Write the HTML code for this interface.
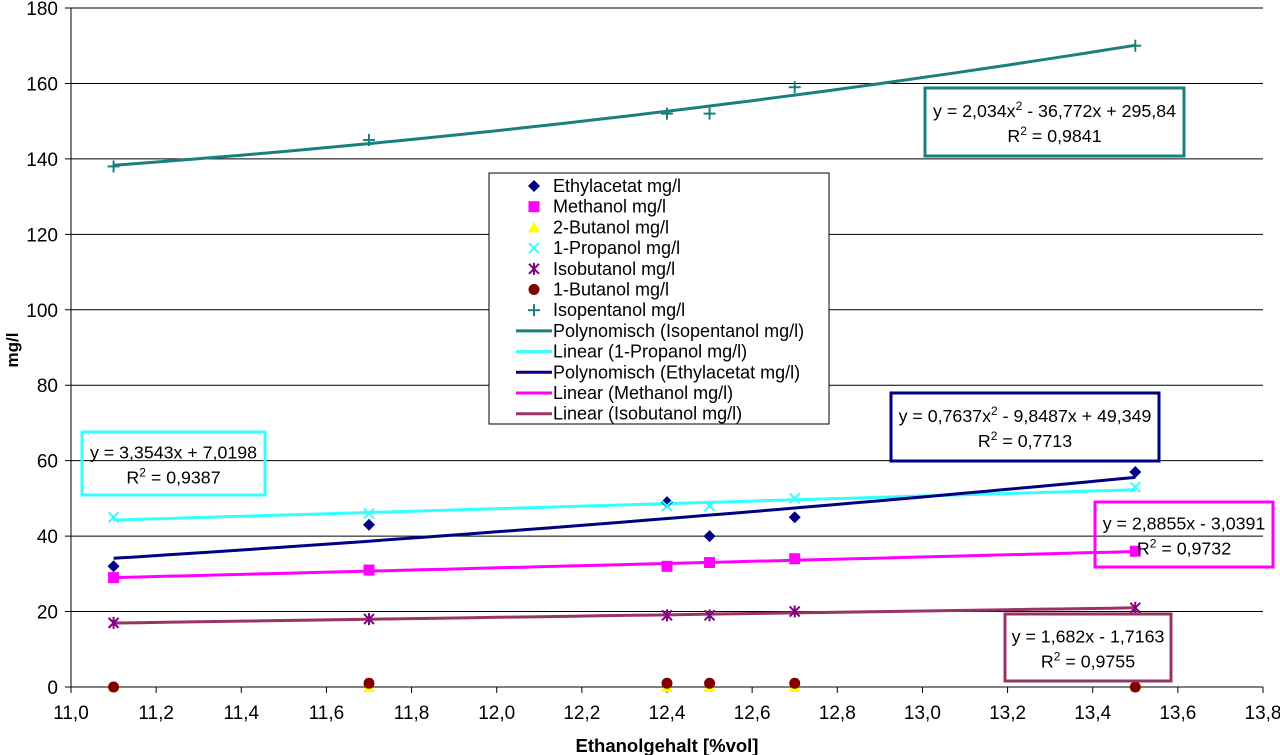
<!DOCTYPE html>
<html><head><meta charset="utf-8"><style>
body{margin:0;background:#fff;}
svg{display:block;font-family:"Liberation Sans",Arial,sans-serif;}
</style></head><body>
<svg id="chart" width="1280" height="755"></svg>
<script>
const xValues=[11.1,11.7,12.4,12.5,12.7,13.5];
const ethylacetat=[32,43,49,40,45,57];
const methanol=[29,31,32,33,34,36];
const butanol2=[0,0,0,0,0,0];
const propanol1=[45,46,48,48,50,53];
const isobutanol=[17,18,19,19,20,21];
const butanol1=[0,1,1,1,1,0];
const isopentanol=[138,145,152,152,159,170];
const xTicks=[11.0,11.2,11.4,11.6,11.8,12.0,12.2,12.4,12.6,12.8,13.0,13.2,13.4,13.6,13.8];
const yTicks=[0,20,40,60,80,100,120,140,160,180];

const NS="http://www.w3.org/2000/svg";
const svg=document.getElementById('chart');
const L=71,R=1263,T=8,B=687;
const sx=v=>L+(v-11.0)/2.8*(R-L);
const sy=v=>B-v/180*(B-T);
function el(tag,attrs,parent){const e=document.createElementNS(NS,tag);for(const k in attrs)e.setAttribute(k,attrs[k]);(parent||svg).appendChild(e);return e;}

yTicks.forEach(t=>{
  const g=el('line',{x1:L-6,x2:R,y1:sy(t),y2:sy(t),stroke:'#000','stroke-width':1});
  
  
  const tx=el('text',{x:L-13,y:sy(t)+7,'text-anchor':'end','font-size':19});
  tx.textContent=t;
  
  
});
el('line',{x1:L,x2:L,y1:T,y2:B,stroke:'#000','stroke-width':1});
xTicks.forEach(t=>{
  el('line',{x1:sx(t),x2:sx(t),y1:B,y2:B+6,stroke:'#000'});
  const tx=el('text',{x:sx(t),y:B+32,'text-anchor':'middle','font-size':19});
  tx.textContent=t.toFixed(1).replace('.',',');
  
  
});
let at=el('text',{x:(L+R)/2,y:752,'text-anchor':'middle','font-size':18.5,'font-weight':'bold'});
at.textContent='Ethanolgehalt [%vol]';


at=el('text',{x:0,y:0,'text-anchor':'middle','font-size':17,'font-weight':'bold',transform:'translate(18,350) rotate(-90)'});
at.textContent='mg/l';



function linFit(xs,ys){const n=xs.length;let mx=0,my=0;xs.forEach((x,i)=>{mx+=x;my+=ys[i];});mx/=n;my/=n;let sxy=0,sxx=0;xs.forEach((x,i)=>{sxy+=(x-mx)*(ys[i]-my);sxx+=(x-mx)**2;});const b=sxy/sxx;return x=>my+b*(x-mx);}
function quadFit(xs,ys){const m=xs.reduce((a,b)=>a+b,0)/xs.length;const u=xs.map(x=>x-m);let S=[0,0,0,0,0],Ty=[0,0,0];u.forEach((x,i)=>{for(let k=0;k<5;k++)S[k]+=x**k;for(let k=0;k<3;k++)Ty[k]+=ys[i]*x**k;});
 const A=[[S[0],S[1],S[2],Ty[0]],[S[1],S[2],S[3],Ty[1]],[S[2],S[3],S[4],Ty[2]]];
 for(let i=0;i<3;i++){for(let j=i+1;j<3;j++){const f=A[j][i]/A[i][i];for(let k=i;k<4;k++)A[j][k]-=f*A[i][k];}}
 const c=[0,0,0];for(let i=2;i>=0;i--){let s=A[i][3];for(let k=i+1;k<3;k++)s-=A[i][k]*c[k];c[i]=s/A[i][i];}
 return x=>c[0]+c[1]*(x-m)+c[2]*(x-m)**2;}
function trend(f,color,name){let d='';const x0=xValues[0],x1=xValues[xValues.length-1];for(let i=0;i<=40;i++){const x=x0+(x1-x0)*i/40;d+=(i?'L':'M')+sx(x).toFixed(1)+','+sy(f(x)).toFixed(1);}
 const p=el('path',{d:d,fill:'none',stroke:color,'stroke-width':3});
 
 }

function marker(type,color,cx,cy,parent){
 const g=parent||svg;
 if(type==='diamond')return el('polygon',{points:`${cx},${cy-6} ${cx+6},${cy} ${cx},${cy+6} ${cx-6},${cy}`,fill:color},g);
 if(type==='square')return el('rect',{x:cx-5.5,y:cy-5.5,width:11,height:11,fill:color},g);
 if(type==='triangle')return el('polygon',{points:`${cx},${cy-6} ${cx+6},${cy+5} ${cx-6},${cy+5}`,fill:color},g);
 if(type==='circle')return el('circle',{cx:cx,cy:cy,r:5.5,fill:color},g);
 const gg=el('g',{stroke:color,'stroke-width':2},g);
 if(type==='x'||type==='star'){el('line',{x1:cx-5,y1:cy-5,x2:cx+5,y2:cy+5},gg);el('line',{x1:cx-5,y1:cy+5,x2:cx+5,y2:cy-5},gg);}
 if(type==='star'){el('line',{x1:cx,y1:cy-6,x2:cx,y2:cy+6},gg);}
 if(type==='plus'){el('line',{x1:cx-6,y1:cy,x2:cx+6,y2:cy},gg);el('line',{x1:cx,y1:cy-6,x2:cx,y2:cy+6},gg);}
 return gg;}
function series(ys,type,color,name){ys.forEach((v,i)=>{const m=marker(type,color,sx(xValues[i]),sy(v));
 
 });}

series(butanol2,'triangle','#ffff00','2-butanol');
series(butanol1,'circle','#800000','1-butanol');
trend(linFit(xValues,isobutanol),'#993366','isobutanol-trendline');
trend(linFit(xValues,methanol),'#ff00ff','methanol-trendline');
trend(linFit(xValues,propanol1),'#33ffff','propanol-trendline');
trend(quadFit(xValues,ethylacetat),'#000080','ethylacetat-trendline');
trend(quadFit(xValues,isopentanol),'#1a7f7f','isopentanol-trendline');
series(ethylacetat,'diamond','#000080','ethylacetat');
series(methanol,'square','#ff00ff','methanol');
series(propanol1,'x','#33ffff','1-propanol');
series(isobutanol,'star','#800080','isobutanol');
series(isopentanol,'plus','#1a7f7f','isopentanol');

function box(x,y,w,h,color,l1,l2,name){const g=el('g',{});
 
 
 el('rect',{x:x,y:y,width:w,height:h,fill:'none',stroke:color,'stroke-width':3},g);
 const t1=el('text',{x:x+w/2,y:y+h/2-5,'text-anchor':'middle','font-size':17.8},g);t1.innerHTML=l1;
 const t2=el('text',{x:x+w/2,y:y+h/2+20,'text-anchor':'middle','font-size':17.8},g);t2.innerHTML=l2;}
box(925,88,259,68,'#1a7f7f','y = 2,034x<tspan dy="-7" font-size="12">2</tspan><tspan dy="7"> - 36,772x + 295,84</tspan>','R<tspan dy="-7" font-size="12">2</tspan><tspan dy="7"> = 0,9841</tspan>','isopentanol-equation');
box(82,432,183,63,'#33ffff','y = 3,3543x + 7,0198','R<tspan dy="-7" font-size="12">2</tspan><tspan dy="7"> = 0,9387</tspan>','propanol-equation');
box(891,393,268,68,'#000080','y = 0,7637x<tspan dy="-7" font-size="12">2</tspan><tspan dy="7"> - 9,8487x + 49,349</tspan>','R<tspan dy="-7" font-size="12">2</tspan><tspan dy="7"> = 0,7713</tspan>','ethylacetat-equation');
box(1095,502,178,65,'#ff00ff','y = 2,8855x - 3,0391','R<tspan dy="-7" font-size="12">2</tspan><tspan dy="7"> = 0,9732</tspan>','methanol-equation');
box(1005,614,166,67,'#993366','y = 1,682x - 1,7163','R<tspan dy="-7" font-size="12">2</tspan><tspan dy="7"> = 0,9755</tspan>','isobutanol-equation');

const lg=el('g',{});


el('rect',{x:489,y:173,width:340,height:251,fill:'#fff',stroke:'#000','stroke-width':1},lg);
const entries=[['diamond','#000080','Ethylacetat  mg/l'],['square','#ff00ff','Methanol mg/l'],['triangle','#ffff00','2-Butanol mg/l'],['x','#33ffff','1-Propanol mg/l'],['star','#800080','Isobutanol mg/l'],['circle','#800000','1-Butanol mg/l'],['plus','#1a7f7f','Isopentanol mg/l'],
 ['line','#1a7f7f','Polynomisch (Isopentanol mg/l)'],['line','#33ffff','Linear (1-Propanol mg/l)'],['line','#000080','Polynomisch (Ethylacetat  mg/l)'],['line','#ff00ff','Linear (Methanol mg/l)'],['line','#993366','Linear (Isobutanol mg/l)']];
entries.forEach((e,i)=>{const y=186+i*20.7;const g=el('g',{},lg);
 
 
 if(e[0]==='line')el('line',{x1:516,x2:552,y1:y,y2:y,stroke:e[1],'stroke-width':3},g);
 else marker(e[0],e[1],534,y,g);
 const t=el('text',{x:553,y:y+6,'font-size':18,'xml:space':'preserve'},g);t.textContent=e[2];});
</script>
</body></html>
